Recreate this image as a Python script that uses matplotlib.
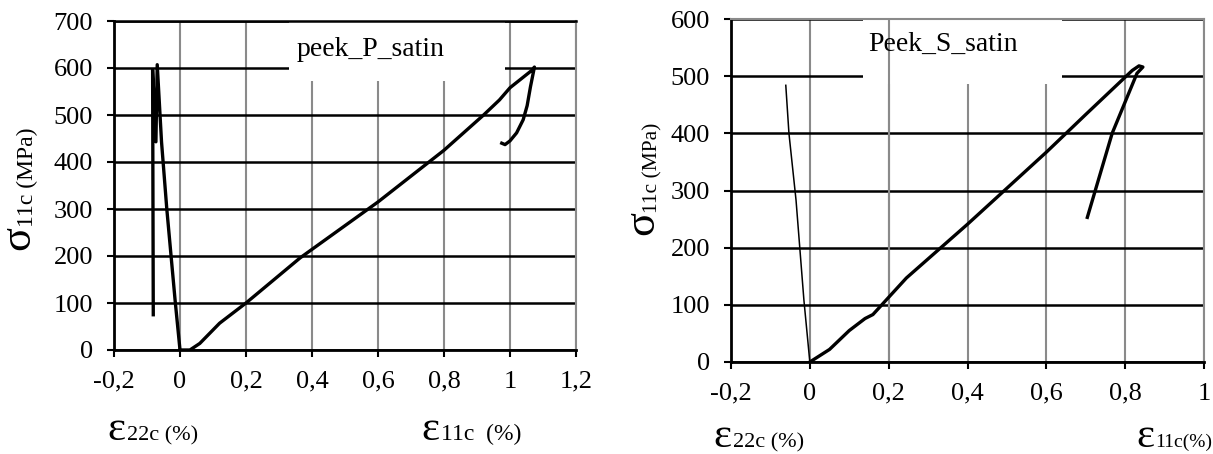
import matplotlib.pyplot as plt
from matplotlib.patches import Rectangle

# peek_P_satin (left)
p_e11 = [0, 0.03, 0.06, 0.12, 0.2, 0.364, 0.6, 0.8, 0.92, 0.968, 1.0, 1.068, 1.074,
         1.062, 1.052, 1.04, 1.02, 1.0, 0.985, 0.975]
p_s11 = [0, 0, 14, 57, 100, 196, 315, 425, 500, 532, 558, 596, 602,
         560, 520, 490, 462, 445, 437, 440]
p_e22 = [0, -0.015, -0.04, -0.056, -0.069, -0.073, -0.083, -0.081]
p_s22 = [0, 107, 300, 443, 607, 443, 596, 75]

# Peek_S_satin (right)
s_e11 = [0, 0.05, 0.1, 0.14, 0.16, 0.245, 0.4, 0.6, 0.7, 0.818, 0.835, 0.845, 0.83, 0.767, 0.704]
s_s11 = [0, 22, 55, 76, 83, 147, 241, 367, 433, 510, 518, 516, 505, 400, 253]
s_e22 = [0, -0.015, -0.035, -0.053, -0.061]
s_s22 = [0, 108, 283, 400, 484]

W, H = 1213, 454
fig = plt.figure(figsize=(W / 100, H / 100), dpi=100)
plt.rcParams['font.family'] = 'Liberation Serif'


def fmt(v):
    s = ('%g' % round(v, 1)).replace('.', ',')
    return s


def setup(ax, xmax, ymax, top_black):
    ax.set_xlim(-0.2, xmax)
    ax.set_ylim(0, ymax)
    xt = [round(-0.2 + 0.2 * i, 1) for i in range(int(round((xmax + 0.2) / 0.2)) + 1)]
    yt = list(range(0, ymax + 1, 100))
    ax.set_xticks(xt)
    ax.set_xticklabels([fmt(v) for v in xt])
    ax.set_yticks(yt)
    ax.tick_params(labelsize=19, length=5, width=1.5, colors='black', pad=10)
    ax.set_axisbelow(True)
    ax.xaxis.grid(True, color='#8a8a8a', lw=1.5)
    ax.yaxis.grid(True, color='black', lw=1.8)
    ax.spines['left'].set_color('black')
    ax.spines['left'].set_linewidth(2)
    ax.spines['bottom'].set_color('black')
    ax.spines['bottom'].set_linewidth(2)
    ax.spines['right'].set_color('#8a8a8a')
    ax.spines['right'].set_linewidth(1.5)
    ax.spines['top'].set_color('black' if top_black else '#8a8a8a')
    ax.spines['top'].set_linewidth(1.8 if top_black else 1.5)


axL = fig.add_axes([114 / W, 1 - 350 / H, (576 - 114) / W, (350 - 21) / H])
setup(axL, 1.2, 700, True)
axL.add_patch(Rectangle((0.331, 573), 0.655, 124, facecolor='white', edgecolor='none', zorder=1))
axL.text(0.578, 640, 'peek_P_satin', ha='center', va='center', fontsize=20, zorder=2)
axL.plot(p_e11, p_s11, color='black', lw=2.4, zorder=3)
axL.plot(p_e22, p_s22, color='black', lw=2.4, zorder=3)

axR = fig.add_axes([731 / W, 1 - 362 / H, (1204 - 731) / W, (362 - 19) / H])
setup(axR, 1.0, 600, False)
axR.add_patch(Rectangle((0.134, 486), 0.506, 112, facecolor='white', edgecolor='none', zorder=1))
axR.axvline(0.2, color='#8a8a8a', lw=1.5, zorder=1.5)
axR.text(0.337, 556, 'Peek_S_satin', ha='center', va='center', fontsize=20, zorder=2)
axR.plot(s_e11, s_s11, color='black', lw=2.4, zorder=3)
axR.plot(s_e22, s_s22, color='black', lw=1.1, zorder=3)


def eps_label(x_big, x_small, base, sub, size):
    fig.text(x_big / W, 1 - base / H, '\u03b5', fontsize=31, ha='left', va='baseline')
    fig.text(x_small / W, 1 - base / H, sub, fontsize=size, ha='left', va='baseline')


def sig_label(x_right, y_bottom, y_small, size):
    fig.text(x_right / W, 1 - y_bottom / H, '\u03c3', fontsize=32, rotation=90, ha='right', va='bottom')
    fig.text(x_right / W, 1 - y_small / H, '11c (MPa)', fontsize=size, rotation=90, ha='right', va='bottom')


eps_label(107, 127, 440, '22c (%)', 16)
eps_label(421, 441, 440, '11c  (%)', 17)
eps_label(713, 733, 447, '22c (%)', 16)
eps_label(1136, 1155, 447, '11c(%)', 14)

sig_label(38, 250, 227, 17)
sig_label(662, 235, 213, 15.5)

fig.savefig('out.png', dpi=100)
